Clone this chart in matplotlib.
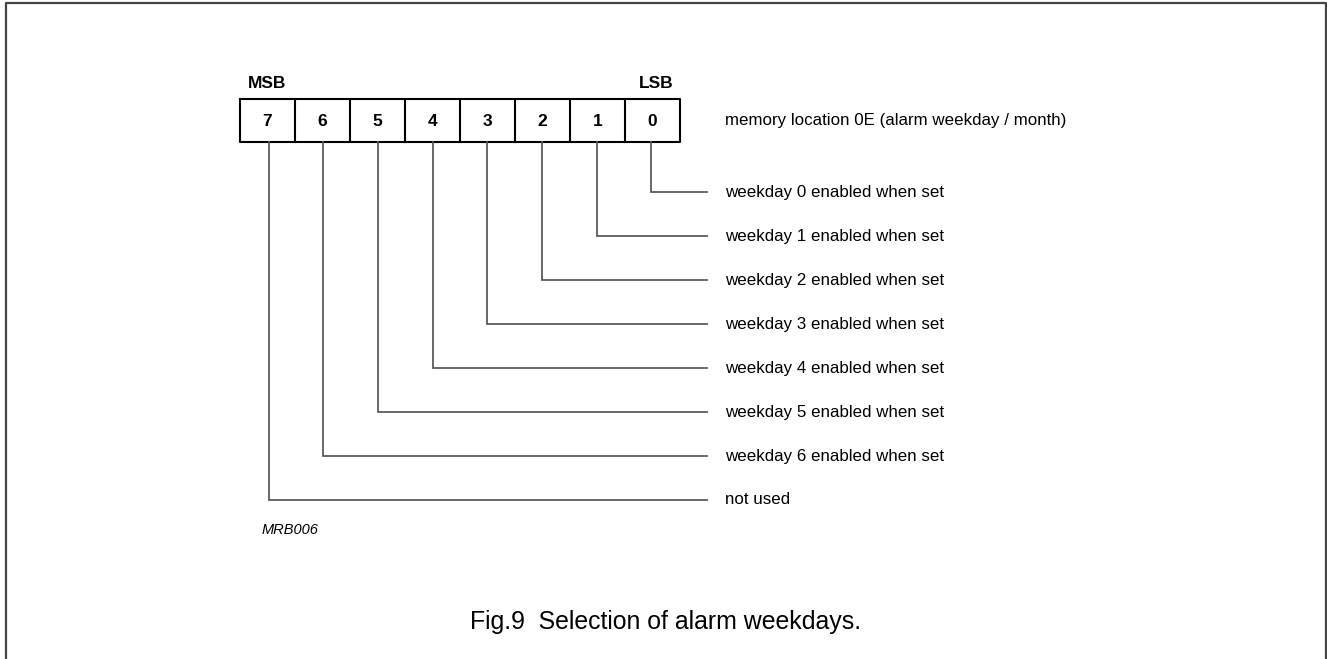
import matplotlib
matplotlib.use("Agg")
import matplotlib.pyplot as plt

plt.rcParams['font.family'] = ['Liberation Sans', 'DejaVu Sans']

bits = [7, 6, 5, 4, 3, 2, 1, 0]
bit_labels = ["not used",
              "weekday 6 enabled when set",
              "weekday 5 enabled when set",
              "weekday 4 enabled when set",
              "weekday 3 enabled when set",
              "weekday 2 enabled when set",
              "weekday 1 enabled when set",
              "weekday 0 enabled when set"]
register_label = "memory location 0E (alarm weekday / month)"
msb_label, lsb_label = "MSB", "LSB"
code_label = "MRB006"
caption = "Fig.9  Selection of alarm weekdays."

W, H = 1327, 659
fig = plt.figure(figsize=(W / 100, H / 100), dpi=100)
ax = fig.add_axes([0, 0, 1, 1])
ax.set_xlim(0, W)
ax.set_ylim(H, 0)
ax.axis('off')

# outer frame
ax.plot([6, 6, 1326, 1326], [700, 3, 3, 700], color='#444444', lw=1.6, solid_capstyle='butt')

# register box
box_left, cell_w, box_top, box_bot = 240, 55, 99, 142
n = len(bits)
ax.plot([box_left, box_left + n * cell_w, box_left + n * cell_w, box_left, box_left],
        [box_top, box_top, box_bot, box_bot, box_top], color='black', lw=1.5)
for i in range(1, n):
    ax.plot([box_left + i * cell_w] * 2, [box_top, box_bot], color='black', lw=1.5)
for i, b in enumerate(bits):
    ax.text(box_left + (i + 0.5) * cell_w, (box_top + box_bot) / 2 + 1, str(b),
            ha='center', va='center', fontsize=12.5, fontweight='bold')

ax.text(248, 83, msb_label, ha='left', va='center', fontsize=12.5, fontweight='bold')
ax.text(674, 83, lsb_label, ha='right', va='center', fontsize=12.5, fontweight='bold')
ax.text(725, 121, register_label, ha='left', va='center', fontsize=12.2)

# connectors
line_end, text_x = 707, 725
y_first, dy = 192, 44
for i, b in enumerate(bits):
    x = box_left + (i + 0.5) * cell_w + 1 - 0.3 * i
    y = y_first + (n - 1 - i) * dy
    ax.plot([x, x, line_end], [box_bot, y, y], color='#555555', lw=1.25,
            solid_joinstyle='miter')
    ax.text(text_x, y, bit_labels[i], ha='left', va='center', fontsize=12.2)

ax.text(262, 530, code_label, ha='left', va='center', fontsize=10.5, style='italic')
ax.text(666, 622, caption, ha='center', va='center', fontsize=17.9)

fig.savefig("out.png", dpi=100)
